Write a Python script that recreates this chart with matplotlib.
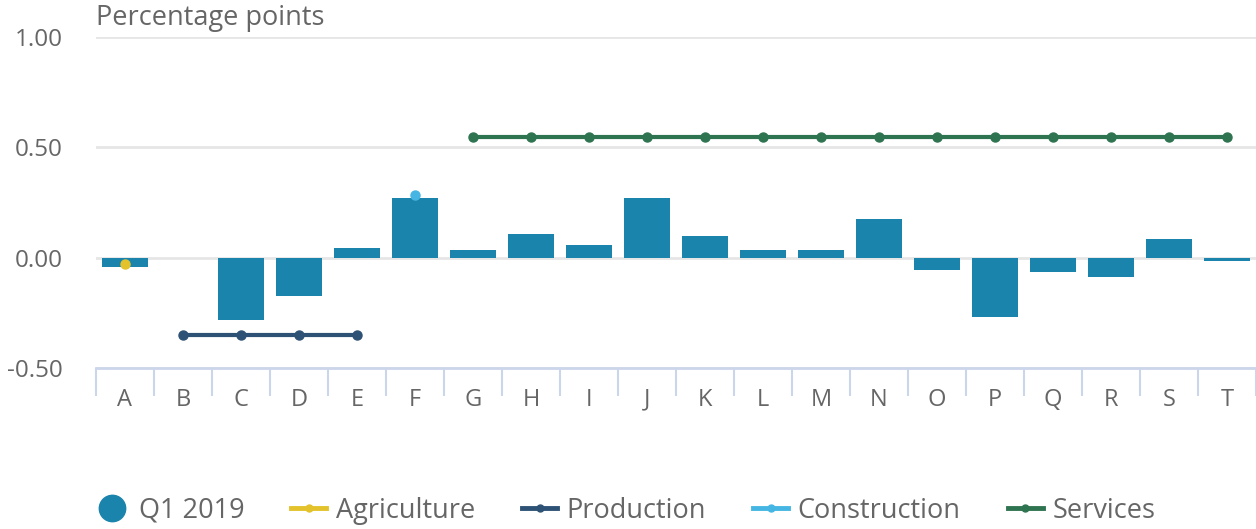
import numpy as np
import matplotlib.pyplot as plt
from matplotlib.lines import Line2D

plt.rcParams['font.family'] = ['Open Sans', 'DejaVu Sans']

# Дані
sectors = ["A", "B", "C", "D", "E", "F", "G", "H", "I", "J",
           "K", "L", "M", "N", "O", "P", "Q", "R", "S", "T"]
q1_2019 = [-0.04, np.nan, -0.28, -0.175, 0.045, 0.27, 0.037, 0.11, 0.06, 0.27,
           0.097, 0.037, 0.037, 0.178, -0.055, -0.27, -0.065, -0.085, 0.087, -0.013]
agriculture = {"A": -0.03}
production = {"B": -0.35, "C": -0.35, "D": -0.35, "E": -0.35}
construction = {"F": 0.285}
services = {s: 0.545 for s in sectors[6:]}

bar_color = "#1a84ad"
line_colors = {"Agriculture": "#e3c22b", "Production": "#2e5275",
               "Construction": "#45b6e3", "Services": "#2f7450"}
text_color = "#666666"

fig = plt.figure(figsize=(12.56, 5.29), dpi=100)
ax = fig.add_axes([0.0764, 0.304, 0.9236, 0.626])

x = np.arange(len(sectors))
ax.bar(x, q1_2019, width=0.8, color=bar_color, zorder=3)

for name, series in [("Agriculture", agriculture), ("Production", production),
                     ("Construction", construction), ("Services", services)]:
    xs = [sectors.index(k) for k in series]
    ax.plot(xs, list(series.values()), color=line_colors[name], lw=3,
            marker="o", ms=6.5, zorder=4)

ax.set_xlim(-0.5, len(sectors) - 0.5)
ax.set_ylim(-0.5, 1.0)
ax.set_yticks([-0.5, 0.0, 0.5, 1.0])
ax.set_yticklabels(["-0.50", "0.00", "0.50", "1.00"])
ax.grid(axis="y", color="#e6e6e6", lw=2, zorder=0)
ax.set_axisbelow(True)

ax.set_xticks(x)
ax.set_xticklabels(sectors)
ax.set_xticks(np.arange(-0.5, len(sectors)), minor=True)
ax.tick_params(axis="x", which="major", length=0, pad=14, labelsize=17, labelcolor=text_color)
ax.tick_params(axis="x", which="minor", length=20, width=1.5, color="#ccd6eb")
ax.tick_params(axis="y", length=0, pad=24, labelsize=17.5, labelcolor=text_color)

for side in ["top", "right", "left"]:
    ax.spines[side].set_visible(False)
ax.spines["bottom"].set_color("#ccd6eb")
ax.spines["bottom"].set_linewidth(2)

fig.text(0.0764, 0.94, "Percentage points", fontsize=19.5, color=text_color, va="bottom")

handles = [Line2D([], [], ls="none", marker="o", ms=19, color=bar_color)]
labels = ["Q1 2019"]
for name in ["Agriculture", "Production", "Construction", "Services"]:
    handles.append(Line2D([], [], color=line_colors[name], lw=3.5, marker="o", ms=5))
    labels.append(name)
fig.legend(handles, labels, loc="lower left", bbox_to_anchor=(0.0555, -0.038), ncol=5,
           frameon=False, fontsize=19.5, labelcolor=text_color, handlelength=1.3,
           columnspacing=1.73, handletextpad=0.35)

fig.savefig("out.png", dpi=100)
